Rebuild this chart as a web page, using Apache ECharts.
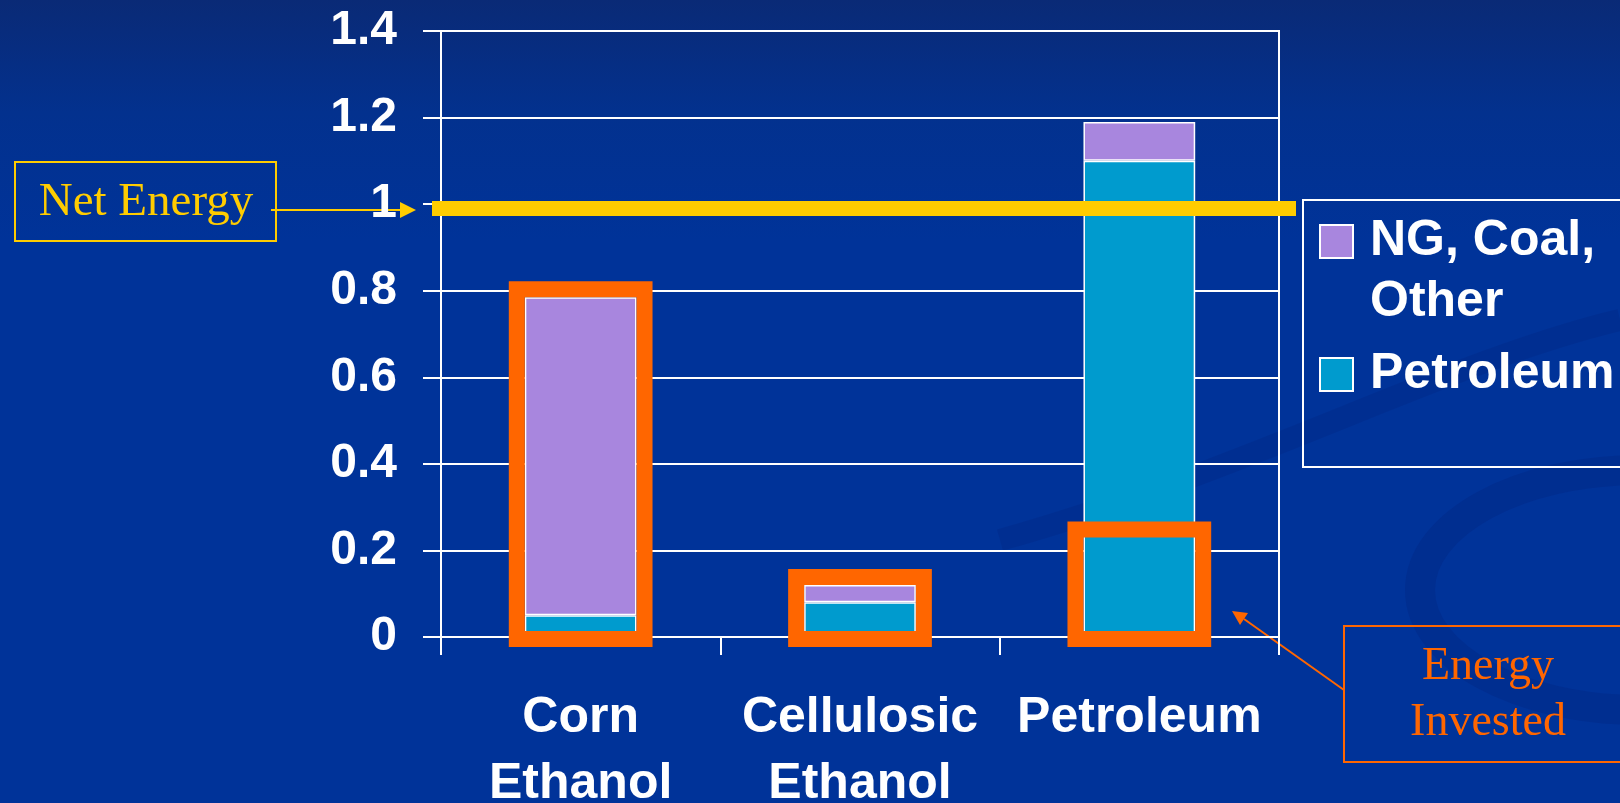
<!DOCTYPE html>
<html>
<head>
<meta charset="utf-8">
<script src="https://cdn.jsdelivr.net/npm/echarts@6/dist/echarts.min.js"></script>
<style>
html,body{margin:0;padding:0;width:1620px;height:803px;overflow:hidden;background:#003399;}
#c{width:1620px;height:803px;}
</style>
</head>
<body>
<div id="c"></div>
<script>
// ---- data ----
var categories = ['Corn\nEthanol', 'Cellulosic\nEthanol', 'Petroleum'];
var petroleumInput = [0.05, 0.08, 1.10];
var otherInput = [0.735, 0.04, 0.09];
var energyInvested = [0.785, 0.12, 0.23];
var netEnergyLevel = [0.99];
var yTicks = [0, 0.2, 0.4, 0.6, 0.8, 1, 1.2, 1.4];

var SANS = '"Liberation Sans", Arial, Helvetica, sans-serif';
var SERIF = '"Liberation Serif", "Times New Roman", serif';
var ORANGE = '#FF6600';
var YELLOW = '#FFCC00';

var chart = echarts.init(document.getElementById('c'), null, {renderer: 'canvas'});

var option = {
  backgroundColor: {
    type: 'linear', x: 0, y: 0, x2: 0, y2: 1,
    colorStops: [
      {offset: 0, color: '#0A2A76'},
      {offset: 0.14, color: '#03318E'},
      {offset: 0.3, color: '#003399'},
      {offset: 1, color: '#003399'}
    ]
  },
  animation: false,
  grid: {
    left: 441, right: 341, top: 31, bottom: 166,
    outerBoundsMode: 'none',
    containLabel: false,
    show: true, borderColor: '#FFFFFF', borderWidth: 2,
    backgroundColor: 'transparent'
  },
  legend: {
    orient: 'vertical',
    left: 1319, top: 150,
    padding: 0,
    itemWidth: 33, itemHeight: 33, itemGap: 11,
    icon: 'rect',
    selectedMode: false,
    itemStyle: {borderColor: '#FFFFFF', borderWidth: 2},
    formatter: function (n) { return n === 'NG, Coal, Other' ? '\nNG, Coal,\nOther' : n; },
    textStyle: {color: '#FFFFFF', fontFamily: SANS, fontWeight: 'bold', fontSize: 50, lineHeight: 61, padding: [0, 0, 0, 12]},
    data: ['NG, Coal, Other', 'Petroleum']
  },
  xAxis: {
    type: 'category',
    data: categories,
    axisLine: {show: true, lineStyle: {color: '#FFFFFF', width: 2}},
    axisTick: {show: true, length: 18, lineStyle: {color: '#FFFFFF', width: 2}},
    axisLabel: {color: '#FFFFFF', fontFamily: SANS, fontWeight: 'bold', fontSize: 50, lineHeight: 66, margin: 48, interval: 0, hideOverlap: false},
    splitLine: {show: false}
  },
  yAxis: {
    type: 'value',
    min: 0, max: 1.4, interval: 0.2,
    axisLine: {show: true, lineStyle: {color: '#FFFFFF', width: 2}},
    axisTick: {show: true, length: 18, lineStyle: {color: '#FFFFFF', width: 2}},
    axisLabel: {
      color: '#FFFFFF', fontFamily: SANS, fontWeight: 'bold', fontSize: 48, margin: 44,
      formatter: function (v) {
        var best = yTicks.reduce(function (a, b) { return Math.abs(b - v) < Math.abs(a - v) ? b : a; });
        return String(best);
      }
    },
    splitLine: {show: true, lineStyle: {color: '#FFFFFF', width: 2}}
  },
  series: [
    {
      name: 'Petroleum', type: 'bar', stack: 'e', barWidth: '40%',
      itemStyle: {color: '#009BCE', borderColor: '#FFFFFF', borderWidth: 1.5},
      data: petroleumInput, z: 2
    },
    {
      name: 'NG, Coal, Other', type: 'bar', stack: 'e', barWidth: '40%',
      itemStyle: {color: '#A886DE', borderColor: '#FFFFFF', borderWidth: 1.5},
      data: otherInput, z: 2
    },
    {
      name: 'Energy Invested box', type: 'custom', z: 5, clip: false, silent: true,
      data: energyInvested.map(function (v, i) { return [i, v]; }),
      encode: {x: 0, y: 1},
      renderItem: function (params, api) {
        var top = api.coord([api.value(0), api.value(1)]);
        var base = api.coord([api.value(0), 0]);
        var band = api.size([1, 0])[0];
        var bw = band * 0.4;
        var x0 = top[0] - bw / 2 - 8;
        var y0 = top[1] - 8;
        return {
          type: 'rect',
          shape: {x: x0, y: y0, width: bw + 16, height: base[1] + 2 - y0},
          style: {fill: 'none', stroke: ORANGE, lineWidth: 16}
        };
      }
    },
    {
      name: 'Net Energy line', type: 'custom', z: 6, clip: false, silent: true,
      data: netEnergyLevel.map(function (v) { return [0, v]; }),
      encode: {x: 0, y: 1},
      renderItem: function (params, api) {
        var p = api.coord([0, api.value(1)]);
        var cs = params.coordSys;
        return {
          type: 'line',
          shape: {x1: cs.x - 9, y1: p[1], x2: cs.x + cs.width + 17, y2: p[1]},
          style: {stroke: YELLOW, lineWidth: 15}
        };
      }
    }
  ],
  graphic: [
    // subtle background swirl
    {type: 'ellipse', z: -10, silent: true, shape: {cx: 1640, cy: 590, rx: 220, ry: 120},
     style: {fill: 'none', stroke: 'rgba(0,30,120,0.25)', lineWidth: 30}},
    {type: 'bezierCurve', z: -10, silent: true,
     shape: {x1: 1000, y1: 540, x2: 1620, y2: 320, cpx1: 1250, cpy1: 470, cpx2: 1450, cpy2: 360},
     style: {stroke: 'rgba(0,30,120,0.22)', lineWidth: 22, fill: 'none'}},
    // legend frame
    {type: 'rect', z: 1, silent: true, shape: {x: 1303, y: 200, width: 340, height: 267},
     style: {fill: 'none', stroke: '#FFFFFF', lineWidth: 2}},
    // Net Energy annotation
    {type: 'rect', silent: true, shape: {x: 15, y: 162, width: 261, height: 79},
     style: {fill: 'none', stroke: YELLOW, lineWidth: 2}},
    {type: 'text', silent: true, x: 146, y: 203,
     style: {text: 'Net Energy', fill: YELLOW, font: '47px ' + SERIF, align: 'center', verticalAlign: 'middle'}},
    {type: 'line', silent: true, shape: {x1: 271, y1: 210, x2: 402, y2: 210},
     style: {stroke: YELLOW, lineWidth: 2}},
    {type: 'polygon', silent: true, shape: {points: [[416, 210], [400, 202], [400, 218]]},
     style: {fill: YELLOW}},
    // Energy Invested annotation
    {type: 'rect', silent: true, shape: {x: 1344, y: 626, width: 300, height: 136},
     style: {fill: 'none', stroke: ORANGE, lineWidth: 2}},
    {type: 'text', silent: true, x: 1488, y: 667,
     style: {text: 'Energy', fill: ORANGE, font: '46px ' + SERIF, align: 'center', verticalAlign: 'middle'}},
    {type: 'text', silent: true, x: 1488, y: 723,
     style: {text: 'Invested', fill: ORANGE, font: '46px ' + SERIF, align: 'center', verticalAlign: 'middle'}},
    {type: 'line', silent: true, shape: {x1: 1344, y1: 690, x2: 1244, y2: 619},
     style: {stroke: ORANGE, lineWidth: 2}},
    {type: 'polygon', silent: true, shape: {points: [[1232, 611], [1248, 613], [1240, 625]]},
     style: {fill: ORANGE}}
  ]
};

chart.setOption(option);
</script>
</body>
</html>
